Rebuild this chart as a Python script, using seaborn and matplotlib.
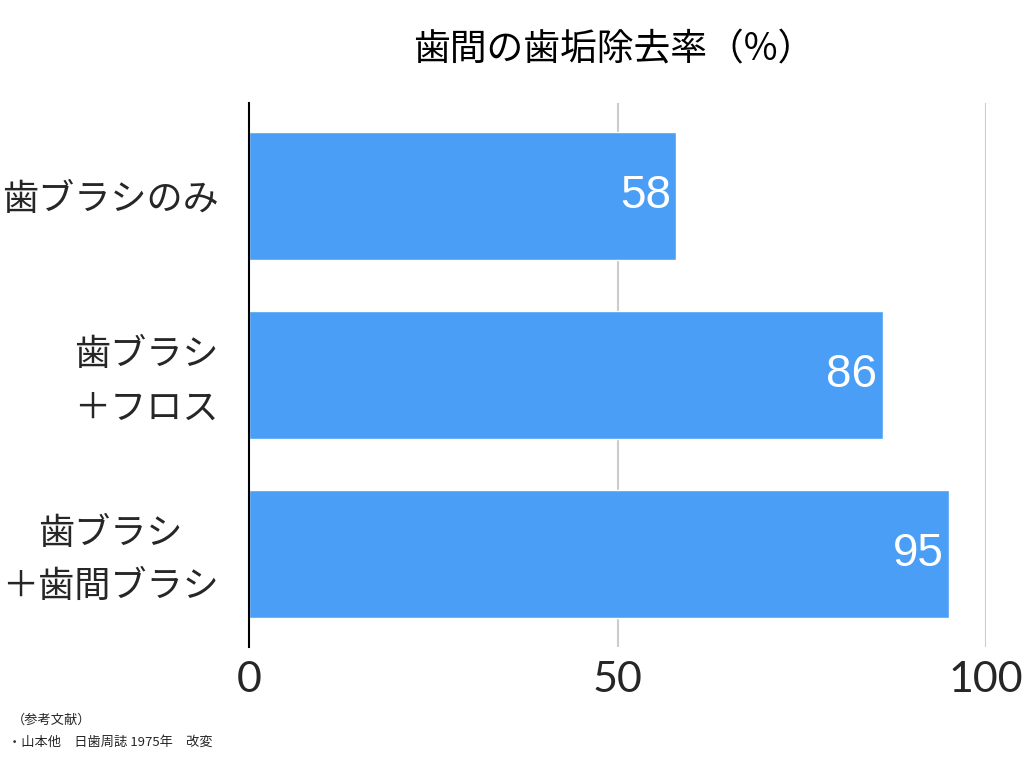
import matplotlib
matplotlib.use("Agg")
import matplotlib.pyplot as plt
import matplotlib.transforms as mtransforms
import seaborn as sns
import pandas as pd

categories = ["歯ブラシのみ", "歯ブラシ\n＋フロス", "歯ブラシ\n＋歯間ブラシ"]
values = [58, 86, 95]
xticks = [0, 50, 100]
title = "歯間の歯垢除去率（%）"
notes = ["（参考文献）", "・山本他　日歯周誌 1975年　改変"]

sns.set_theme(style="white")
plt.rcParams['font.family'] = ['Noto Sans CJK JP', 'DejaVu Sans']

df = pd.DataFrame({"cat": categories, "val": values})

fig = plt.figure(figsize=(10.24, 7.68), dpi=100)
ax = fig.add_axes([249/1024, 1-647/768, 737/1024, 544/768])

sns.barplot(data=df, x="val", y="cat", color="#4A9EF5", saturation=1,
            width=0.715, ax=ax, zorder=3)

ax.set_xlim(0, 100)
ax.set_ylim(2.52, -0.52)
ax.set_xticks(xticks)
ax.set_xticklabels([str(t) for t in xticks], fontsize=31, family=['Lato', 'DejaVu Sans'])
ax.tick_params(axis='x', length=0, pad=10)
ax.tick_params(axis='y', length=0, pad=22)
ax.set_xlabel("")
ax.set_ylabel("")
shift = mtransforms.ScaledTranslation(0, 6/100, fig.dpi_scale_trans)
for lab in ax.get_yticklabels():
    lab.set_fontsize(26)
    lab.set_multialignment('center')
    lab.set_linespacing(1.62)
    if "\n" in lab.get_text():
        lab.set_transform(lab.get_transform() + shift)

for x in xticks[1:]:
    ax.axvline(x, color="#CCCCCC", lw=1.5, zorder=1)

for s in ["top", "right", "bottom"]:
    ax.spines[s].set_visible(False)
ax.spines["left"].set_color("black")
ax.spines["left"].set_linewidth(1.5)
ax.spines["left"].set_zorder(5)

for i, v in enumerate(values):
    ax.text(v - 0.75, i, str(v), ha="right", va="center", color="white",
            fontsize=33, family=['Liberation Sans', 'DejaVu Sans'], zorder=4)

fig.text(614/1024, 1-50/768, title, ha="center", va="center", fontsize=26.5, color="black")
fig.text(12/1024, 1-720/768, notes[0], ha="left", va="center", fontsize=9.5)
fig.text(8/1024, 1-742/768, notes[1], ha="left", va="center", fontsize=9.5)

fig.savefig("out.png", dpi=100)
